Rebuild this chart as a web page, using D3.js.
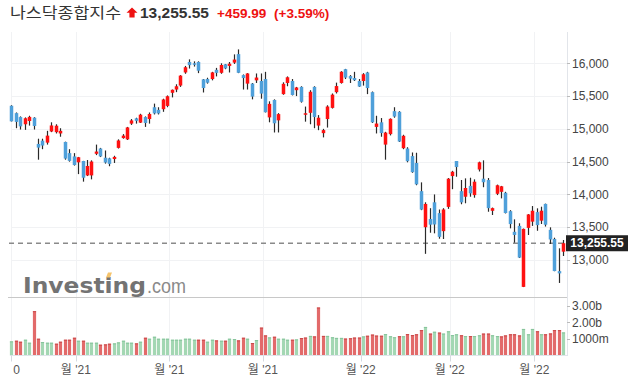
<!DOCTYPE html>
<html><head><meta charset="utf-8">
<script src="https://cdn.jsdelivr.net/npm/d3@7"></script>
<style>
html,body{margin:0;padding:0;background:#fff;}
svg{display:block;font-family:"Liberation Sans",Arial,sans-serif;}
</style></head><body>
<svg id="c" width="632" height="386"></svg>
<script>
// ---- data (daily candles, Sep 10 2021 .. Mar 9 2022) ----
const open = [15352,15240,15180,15070,15120,15170,14770,14820,14790,14960,14950,14930,14800,14630,14580,14490,14510,14290,14290,14620,
14700,14560,14550,14540,14710,14860,14840,15080,15160,15095,15180,15150,15330,15290,15300,15350,15550,15600,15660,15860,
16020,16000,16020,15755,15760,15760,15900,15855,15985,15960,16010,16140,15820,15690,15690,15740,15730,15760,15175,15440,
15130,15530,15700,15730,15590,15640,15215,15245,15640,15050,14935,15150,15320,15560,15700,15910,15805,15775,15730,15730,
15860,15560,15030,15100,14760,14920,15270,15260,14705,14700,14585,14480,14050,13500,13625,13880,13715,13440,13810,14280,
14510,14050,13965,14130,13990,14380,14240,14220,13750,14010,14040,14025,13745,13430,13520,12590,13490,13585,13730,13600,
13855,13460,13320,12830,13127];
const high = [15360,15250,15190,15175,15200,15178,14850,14850,14970,15100,15070,15010,14805,14690,14630,14572,14512,14525,14520,14760,
14710,14670,14560,14590,14840,14920,15030,15150,15170,15230,15190,15250,15385,15330,15460,15510,15600,15680,15820,15960,
16060,16030,16030,15760,15780,15870,15930,16000,15990,16020,16136,16212,15830,15850,15700,15845,15845,15870,15420,15450,
15240,15710,15800,15760,15640,15650,15340,15590,15650,15210,15000,15360,15540,15705,15880,15915,15820,15870,15760,15850,
15870,15570,15200,15165,14955,15160,15330,15270,14910,14720,14640,14636,14184,13880,13790,14000,13770,13790,14250,14360,
14510,14220,14245,14255,14230,14500,14520,14250,13800,14150,14130,14040,13760,13620,13560,13480,13700,13823,13788,13813,
13860,13498,13340,13178,13305];
const low = [15113,15010,14990,14985,15050,14990,14530,14690,14760,14950,14930,14880,14530,14500,14440,14310,14195,14280,14230,14600,
14570,14470,14430,14480,14700,14850,14830,15060,15080,15090,15030,15080,15220,15220,15260,15330,15480,15560,15640,15840,
15920,15950,15850,15555,15690,15740,15800,15840,15910,15860,15990,15850,15600,15600,15450,15700,15460,15250,15100,14945,
14945,15520,15650,15510,15500,15400,15110,15070,15010,14980,14870,15020,15310,15540,15690,15760,15700,15730,15640,15660,
15530,15090,14930,14880,14530,14900,15170,14800,14690,14490,14330,14140,13760,13094,13416,13407,13325,13320,13780,14080,
14270,13850,13865,13965,13950,14350,14110,13736,13686,13990,13940,13710,13483,13264,13030,12587,13381,13520,13446,13549,
13510,13244,12829,12650,13061];
const close = [15115,15106,15038,15162,15182,15044,14714,14746,14897,15052,15048,14970,14547,14512,14449,14567,14255,14434,14502,14654,
14580,14486,14466,14572,14823,14897,15022,15129,15122,15216,15090,15227,15236,15236,15448,15498,15596,15650,15812,15940,
15972,15982,15887,15623,15704,15861,15854,15974,15922,15994,16057,15855,15775,15845,15492,15783,15538,15254,15381,15085,
15225,15687,15787,15517,15631,15413,15238,15566,15180,15170,14981,15341,15522,15653,15871,15782,15766,15742,15645,15833,
15623,15100,15081,14936,14943,15153,15188,14807,14894,14507,14340,14154,13769,13855,13539,13542,13353,13771,14240,14346,
14418,13879,14098,14016,14194,14490,14186,13791,13791,14140,14124,13717,13548,13382,13037,13474,13695,13751,13532,13752,
13538,13313,12831,12796,13256];
const volume = [0.85,0.89,0.83,0.95,0.77,2.67,1.01,0.81,0.77,0.77,0.71,0.83,0.95,0.95,1.07,0.89,0.89,0.77,0.77,0.77,
0.65,0.67,0.71,0.73,0.79,0.89,0.77,0.77,0.73,0.83,1.07,1.01,1.13,1.01,1.01,1.01,0.95,0.95,0.95,1.01,
1.01,0.95,0.95,0.95,0.83,0.95,0.91,0.89,0.89,1.01,0.99,0.91,1.07,1.01,0.75,0.93,1.68,1.21,1.09,1.13,
1.01,1.01,0.95,0.95,0.97,1.05,1.08,1.18,1.15,2.89,1.18,1.18,1.1,1.06,1.06,1.02,1.04,1.08,1.08,1.15,
1.19,1.26,1.2,1.19,1.29,1.16,1.1,1.16,1.16,1.29,1.23,1.28,1.53,1.72,1.32,1.43,1.38,1.32,1.46,1.23,
1.28,1.22,1.17,1.17,1.17,1.22,1.32,1.32,1.22,1.17,1.15,1.21,1.28,1.28,1.21,1.6,1.28,1.6,1.46,1.28,
1.28,1.33,1.53,1.53,1.39]; // billions
const priceTicks = [13000,13500,14000,14500,15000,15500,16000];
const volTicks = [1,2,3];
const volTickLabels = ["1000m","2.00b","3.00b"];
const timeTickAt = [0,14.5,35.5,56.5,78.5,98.5,117.5];
const timeTickLabels = ["0","월 '21","월 '21","월 '21","월 '22","월 '22","월 '22"];
const titleName = "나스닥종합지수";
const lastPriceText = "13,255.55";
const changeText = "+459.99";
const changePctText = "(+3.59%)";
const lastClose = 13255.55;

// ---- drawing ----
const svg = d3.select("#c");
const n = close.length;
const x = d3.scaleLinear().domain([0, n-1]).range([11.3, 563.3]);
const y = d3.scaleLinear().domain([13000,16000]).range([260,63.3]);
const yv = d3.scaleLinear().domain([0,3]).range([355.5,305.7]);
const plotR = 567, plotTop = 32, plotBottom = 355.5;
const UP = "#ff1111", DOWN = "#4fa0da";

// vertical grid
svg.append("g").selectAll("line").data(timeTickAt).join("line")
  .attr("x1", d=>Math.round(x(d))+0.5).attr("x2", d=>Math.round(x(d))+0.5)
  .attr("y1", plotTop).attr("y2", plotBottom).attr("stroke","#f1f2f4");
// horizontal grid
svg.append("g").selectAll("line").data(priceTicks).join("line")
  .attr("x1", 11).attr("x2", plotR).attr("y1", d=>Math.round(y(d))+0.5).attr("y2", d=>Math.round(y(d))+0.5)
  .attr("stroke","#f1f2f4");

// logo
const logo = svg.append("g");
logo.append("text").attr("x",23).attr("y",292.5).attr("font-size",21).attr("font-weight","bold")
  .style("font-family","'DejaVu Sans','Liberation Sans',sans-serif")
  .attr("fill","#737373").attr("textLength",123).attr("lengthAdjust","spacingAndGlyphs").text("Investing");
logo.append("text").attr("x",147).attr("y",292.5).attr("font-size",20).attr("fill","#8a8a8a")
  .attr("textLength",39).attr("lengthAdjust","spacingAndGlyphs").text(".com");
logo.append("path").attr("d","M106,277.5 L108,272.5 L112,272.5 L110,277.5 Z").attr("fill","#f5c36b");

// separator between panels
svg.append("line").attr("x1",8).attr("x2",plotR).attr("y1",297.5).attr("y2",297.5).attr("stroke","#c8c8c8");

// last price dashed line
svg.append("line").attr("x1",9).attr("x2",plotR).attr("y1",y(lastClose)).attr("y2",y(lastClose))
  .attr("stroke","#8a8a8a").attr("stroke-width",1.4).attr("stroke-dasharray","5,4");

// candles
const idx = d3.range(n);
const cg = svg.append("g");
cg.selectAll("line").data(idx).join("line")
  .attr("x1", i=>Math.round(x(i))+0.5).attr("x2", i=>Math.round(x(i))+0.5)
  .attr("y1", i=>y(high[i])).attr("y2", i=>y(low[i]))
  .attr("stroke","#2a2a2a").attr("stroke-width",1.2);
cg.selectAll("rect").data(idx).join("rect")
  .attr("x", i=>Math.round(x(i))+0.5-1.75).attr("width",3.5)
  .attr("y", i=>y(Math.max(open[i],close[i])))
  .attr("height", i=>Math.max(1.5, Math.abs(y(open[i])-y(close[i]))))
  .attr("fill", i=>close[i]>=open[i]?UP:DOWN);

// volume bars
const vUp = i => i===0 || close[i] >= close[i-1];
const vg = svg.append("g");
vg.selectAll("rect").data(idx).join("rect")
  .attr("x", i=>Math.round(x(i))+0.5-1.6).attr("width",3.2)
  .attr("y", i=>yv(volume[i])).attr("height", i=>yv(0)-yv(volume[i]))
  .attr("fill", i=>vUp(i)?"#a3d7b3":"#e26a6a");
vg.selectAll("line").data(idx).join("line")
  .attr("x1", i=>Math.round(x(i))+0.5-1.6).attr("x2", i=>Math.round(x(i))+0.5+1.6)
  .attr("y1", i=>yv(volume[i])+0.5).attr("y2", i=>yv(volume[i])+0.5)
  .attr("stroke", i=>vUp(i)?"#86c49b":"#c94848");

// right axis line + ticks + labels
svg.append("line").attr("x1",plotR+0.5).attr("x2",plotR+0.5).attr("y1",plotTop).attr("y2",plotBottom)
  .attr("stroke","#e2e5ea");
const ya = svg.append("g");
ya.selectAll("line").data(priceTicks).join("line")
  .attr("x1",plotR).attr("x2",plotR+3).attr("y1",d=>Math.round(y(d))+0.5).attr("y2",d=>Math.round(y(d))+0.5)
  .attr("stroke","#bbb");
ya.selectAll("text").data(priceTicks).join("text")
  .attr("x",572).attr("y",d=>y(d)).attr("dy","0.35em").attr("font-size",12).attr("fill","#444")
  .text(d=>d3.format(",")(d));
const va = svg.append("g");
va.selectAll("line").data(volTicks).join("line")
  .attr("x1",plotR).attr("x2",plotR+3).attr("y1",d=>Math.round(yv(d))+0.5).attr("y2",d=>Math.round(yv(d))+0.5)
  .attr("stroke","#bbb");
va.selectAll("text").data(volTicks).join("text")
  .attr("x",572).attr("y",d=>yv(d)).attr("dy","0.35em").attr("font-size",12).attr("fill","#444")
  .text((d,i)=>volTickLabels[i]);

// last price box
svg.append("rect").attr("x",566).attr("y",y(lastClose)-8).attr("width",62).attr("height",16).attr("fill","#222");
svg.append("text").attr("x",597).attr("y",y(lastClose)).attr("dy","0.35em").attr("text-anchor","middle")
  .attr("font-size",12).attr("font-weight","bold").attr("fill","#fff").text(lastPriceText);

// x axis
svg.append("line").attr("x1",10).attr("x2",568).attr("y1",plotBottom).attr("y2",plotBottom).attr("stroke","#dfe4ea");
const xa = svg.append("g");
xa.selectAll("line").data(timeTickAt).join("line")
  .attr("x1", d=>Math.round(x(d))+0.5).attr("x2", d=>Math.round(x(d))+0.5)
  .attr("y1", plotBottom).attr("y2", plotBottom+6).attr("stroke","#d5dae0");
xa.selectAll("text").data(timeTickAt).join("text")
  .attr("x", (d,i)=> i===0 ? x(d)+2 : x(d)).attr("y",374)
  .attr("text-anchor",(d,i)=> i===0 ? "start" : "middle")
  .attr("font-size",12).attr("fill","#555")
  .style("font-family","'Liberation Sans','Noto Sans CJK KR',sans-serif")
  .text((d,i)=>timeTickLabels[i]);

// title
svg.append("text").attr("x",10).attr("y",17.5).attr("font-size",15).attr("fill","#333")
  .style("font-family","'Noto Sans CJK KR',sans-serif").attr("textLength",111)
  .attr("lengthAdjust","spacingAndGlyphs").text(titleName);
svg.append("path").attr("d","M132,7.5 L137.5,12.8 L134.6,12.8 L134.6,17.5 L129.4,17.5 L129.4,12.8 L126.5,12.8 Z")
  .attr("fill","#ee1111");
svg.append("text").attr("x",140).attr("y",18).attr("font-size",15.5).attr("font-weight","bold")
  .attr("fill","#333").text(lastPriceText);
svg.append("text").attr("x",217).attr("y",18).attr("font-size",13.5).attr("font-weight","bold")
  .attr("fill","#ee1111").text(changeText);
svg.append("text").attr("x",274).attr("y",18).attr("font-size",13.5).attr("font-weight","bold")
  .attr("fill","#ee1111").text(changePctText);
</script>
</body></html>
